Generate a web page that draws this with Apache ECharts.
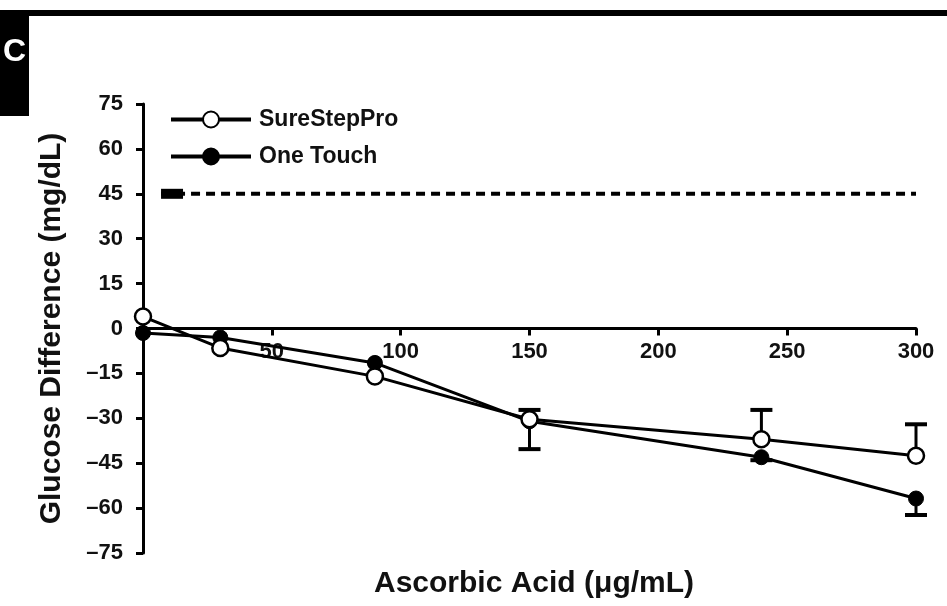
<!DOCTYPE html>
<html>
<head>
<meta charset="utf-8">
<script src="https://cdn.jsdelivr.net/npm/echarts@6/dist/echarts.min.js"></script>
<style>
html,body{margin:0;padding:0;background:#fff;}
#c{width:947px;height:606px;}
</style>
</head>
<body>
<div id="c"></div>
<script>
// ---- data ----
var xValues = [0, 30, 90, 150, 240, 300];
var sureStepPro = [4, -6.5, -16, -30.3, -37, -42.5];
var oneTouch = [-1.5, -3, -11.5, -31, -43, -56.8];
// error bar ends (upper for SureStepPro, lower for One Touch)
var sureStepErrX = [150, 240, 300];
var sureStepErrEnd = [-27.2, -27.2, -32];
var oneTouchErrX = [150, 240, 300];
var oneTouchErrEnd = [-40.3, -44, -62.3];
var limitLine = [[7, 45], [300, 45]];
var yTicks = {min: -75, max: 75, interval: 15};
var xTicks = {min: 0, max: 300, interval: 50};

var FONT = 'Liberation Sans, Arial, Helvetica, sans-serif';
var GRID = {left: 143, right: 31, top: 104, bottom: 53};
var gridH = 606 - GRID.top - GRID.bottom;
// move x axis (line, ticks, labels) up to y = 0
var xAxisOffset = -gridH * (0 - yTicks.min) / (yTicks.max - yTicks.min);

function pairs(xs, ys) { return xs.map(function (x, i) { return [x, ys[i]]; }); }

function errSeries(xs, fromYs, toYs) {
  var data = xs.map(function (x, i) {
    var idx = xValues.indexOf(x);
    return [x, fromYs[idx], toYs[i]];
  });
  return {
    type: 'custom',
    z: 1,
    silent: true,
    data: data,
    encode: {x: 0, y: [1, 2]},
    renderItem: function (params, api) {
      var p0 = api.coord([api.value(0), api.value(1)]);
      var p1 = api.coord([api.value(0), api.value(2)]);
      var hw = 11;
      return {
        type: 'group',
        children: [
          {type: 'line', shape: {x1: p0[0], y1: p0[1], x2: p1[0], y2: p1[1]}, style: {stroke: '#000', lineWidth: 3}},
          {type: 'line', shape: {x1: p1[0] - hw, y1: p1[1], x2: p1[0] + hw, y2: p1[1]}, style: {stroke: '#000', lineWidth: 4}}
        ]
      };
    }
  };
}

var chart = echarts.init(document.getElementById('c'), null, {renderer: 'canvas'});
chart.setOption({
  animation: false,
  backgroundColor: '#fff',
  grid: {left: GRID.left, right: GRID.right, top: GRID.top, bottom: GRID.bottom, containLabel: false},
  title: {
    text: 'Ascorbic Acid (\u03bcg/mL)',
    left: 529, top: 564, textAlign: 'center',
    textStyle: {fontFamily: FONT, fontWeight: 'bold', fontSize: 30, color: '#111'}
  },
  legend: {
    orient: 'vertical', left: 164, top: 103, itemGap: 14,
    itemWidth: 80, itemHeight: 20,
    lineStyle: {width: 4, color: '#000'},
    textStyle: {fontFamily: FONT, fontWeight: 'bold', fontSize: 23, color: '#111', padding: [0, 0, 0, 3]},
    data: ['SureStepPro', 'One Touch']
  },
  xAxis: {
    type: 'value', min: xTicks.min, max: xTicks.max, interval: xTicks.interval,
    splitLine: {show: false},
    offset: xAxisOffset,
    axisLine: {onZero: false, lineStyle: {color: '#000', width: 3}},
    axisTick: {show: true, length: 7, lineStyle: {color: '#000', width: 3}},
    axisLabel: {
      margin: 12, fontFamily: FONT, fontWeight: 'bold', fontSize: 22, color: '#111',
      formatter: function (v) { return v === 0 ? '' : String(v); }
    }
  },
  yAxis: {
    type: 'value', min: yTicks.min, max: yTicks.max, interval: yTicks.interval,
    name: 'Glucose Difference (mg/dL)', nameLocation: 'middle', nameGap: 76,
    nameTextStyle: {fontFamily: FONT, fontWeight: 'bold', fontSize: 30, color: '#111'},
    splitLine: {show: false},
    axisLine: {onZero: false, lineStyle: {color: '#000', width: 3}},
    axisTick: {show: true, length: 7, lineStyle: {color: '#000', width: 3}},
    axisLabel: {
      margin: 20, fontFamily: FONT, fontWeight: 'bold', fontSize: 22, color: '#111',
      formatter: function (v) { return String(v).replace('-', '\u2013'); }
    }
  },
  series: [
    errSeries(sureStepErrX, sureStepPro, sureStepErrEnd),
    errSeries(oneTouchErrX, oneTouch, oneTouchErrEnd),
    {
      name: 'One Touch', type: 'line', z: 3,
      data: pairs(xValues, oneTouch),
      symbol: 'circle', symbolSize: 15,
      lineStyle: {color: '#000', width: 3},
      itemStyle: {color: '#000', borderColor: '#000', borderWidth: 1}
    },
    {
      name: 'SureStepPro', type: 'line', z: 4,
      data: pairs(xValues, sureStepPro),
      symbol: 'circle', symbolSize: 16,
      lineStyle: {color: '#000', width: 3},
      itemStyle: {color: '#fff', borderColor: '#000', borderWidth: 2.5}
    },
    {
      name: 'limit', type: 'line', z: 2, silent: true,
      data: [
        {value: limitLine[0], symbol: 'rect', symbolSize: [22, 10], symbolOffset: [11, 0]},
        {value: limitLine[1], symbol: 'none'}
      ],
      lineStyle: {color: '#000', width: 4, type: [9, 6]},
      itemStyle: {color: '#000'}
    }
  ],
  graphic: [
    {type: 'rect', left: 0, top: 10, shape: {width: 947, height: 6}, style: {fill: '#000'}},
    {type: 'rect', left: 0, top: 10, shape: {width: 29, height: 106}, style: {fill: '#000'}},
    {type: 'text', left: 3, top: 36, style: {text: 'C', fill: '#fff', font: 'bold 32px ' + FONT}}
  ]
});
</script>
</body>
</html>
